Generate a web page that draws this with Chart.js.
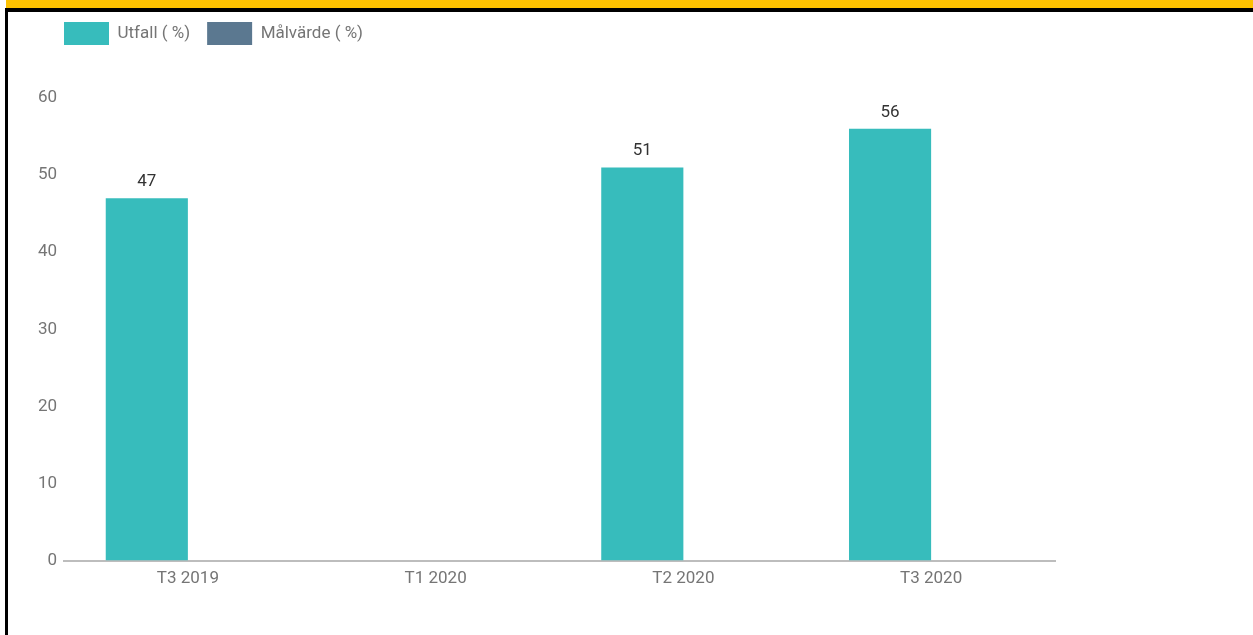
<!DOCTYPE html>
<html>
<head>
<meta charset="utf-8">
<script src="https://cdn.jsdelivr.net/npm/chart.js@4.4.0/dist/chart.umd.min.js"></script>
<style>
  body { margin: 0; background: #fff; font-family: Roboto, sans-serif; }
  .top-yellow { position: absolute; left: 6px; right: 0; top: 0; height: 8px; background: #fdc100; }
  .top-black { position: absolute; left: 6px; right: 0; top: 8px; height: 4px; background: #000; }
  .left-black { position: absolute; left: 5px; width: 3px; top: 8px; bottom: 0; background: #000; }
  #wrap { position: absolute; left: 8px; top: 12px; width: 1245px; height: 623px; }
</style>
</head>
<body>
<div class="top-yellow"></div>
<div class="top-black"></div>
<div class="left-black"></div>
<div id="wrap"><canvas id="chart"></canvas></div>

<script>
// data
const periods = ["T3 2019", "T1 2020", "T2 2020", "T3 2020"];
const utfall = [47, null, 51, 56];
const malvarde = [null, null, null, null];
const yTicks = [0, 10, 20, 30, 40, 50, 60];

const tealColor = '#37bcbc';
const slateColor = '#5b7890';
const greyText = '#757575';

// legend: extra room below it, and boxes lined up with the plot's left edge
const legendPlace = {
    id: 'legendPlace',
    beforeInit(chart) {
        const fit = chart.legend.fit;
        chart.legend.fit = function () {
            fit.call(this);
            this.height += 36;
        };
    },
    afterLayout(chart) {
        const lg = chart.legend;
        const dx = chart.chartArea.left - lg.options.labels.padding - lg.left;
        lg.left += dx;
        lg.right += dx;
        lg.top -= 7;
        lg.bottom -= 7;
    }
};

// value labels above the bars
const barValues = {
    id: 'barValues',
    afterDatasetsDraw(chart) {
        const ctx = chart.ctx;
        ctx.save();
        ctx.font = '17px Roboto';
        ctx.fillStyle = '#333333';
        ctx.textAlign = 'center';
        ctx.textBaseline = 'alphabetic';
        chart.data.datasets.forEach((ds, i) => {
            const meta = chart.getDatasetMeta(i);
            meta.data.forEach((bar, j) => {
                const v = ds.data[j];
                if (v === null || v === undefined) return;
                ctx.fillText(String(v), bar.x, bar.y - 12);
            });
        });
        ctx.restore();
    }
};

const canvas = document.getElementById("chart");

let chart = new Chart(canvas, {
    type: 'bar',
    data: {
        labels: periods,
        datasets: [{
            label: 'Utfall ( %)',
            data: utfall,
            backgroundColor: tealColor,
            borderWidth: 0
        }, {
            label: 'Målvärde ( %)',
            data: malvarde,
            backgroundColor: slateColor,
            borderWidth: 0
        }]
    },
    options: {
        responsive: true,
        maintainAspectRatio: false,
        animation: false,
        categoryPercentage: 0.663,
        barPercentage: 1,
        layout: {
            padding: { left: 29, right: 198, top: 0, bottom: 38 }
        },
        scales: {
            x: {
                grid: { display: false, drawTicks: false },
                border: { display: true, color: '#bdbdbd', width: 2 },
                ticks: {
                    color: greyText,
                    font: { family: 'Roboto', size: 17 },
                    padding: 8,
                    maxRotation: 0
                }
            },
            y: {
                min: 0,
                max: 60,
                afterFit: (scale) => { scale.width = 27; },
                afterBuildTicks: (scale) => {
                    scale.ticks = yTicks.map(v => ({ value: v }));
                },
                grid: { display: false, drawTicks: false },
                border: { display: false },
                ticks: {
                    color: greyText,
                    font: { family: 'Roboto', size: 17 },
                    padding: 7
                }
            }
        },
        plugins: {
            legend: {
                position: 'top',
                align: 'start',
                labels: {
                    boxWidth: 45,
                    boxHeight: 23,
                    padding: 17,
                    color: greyText,
                    font: { family: 'Roboto', size: 17 }
                }
            },
            tooltip: { enabled: false }
        }
    },
    plugins: [legendPlace, barValues]
});
</script>
</body>
</html>
